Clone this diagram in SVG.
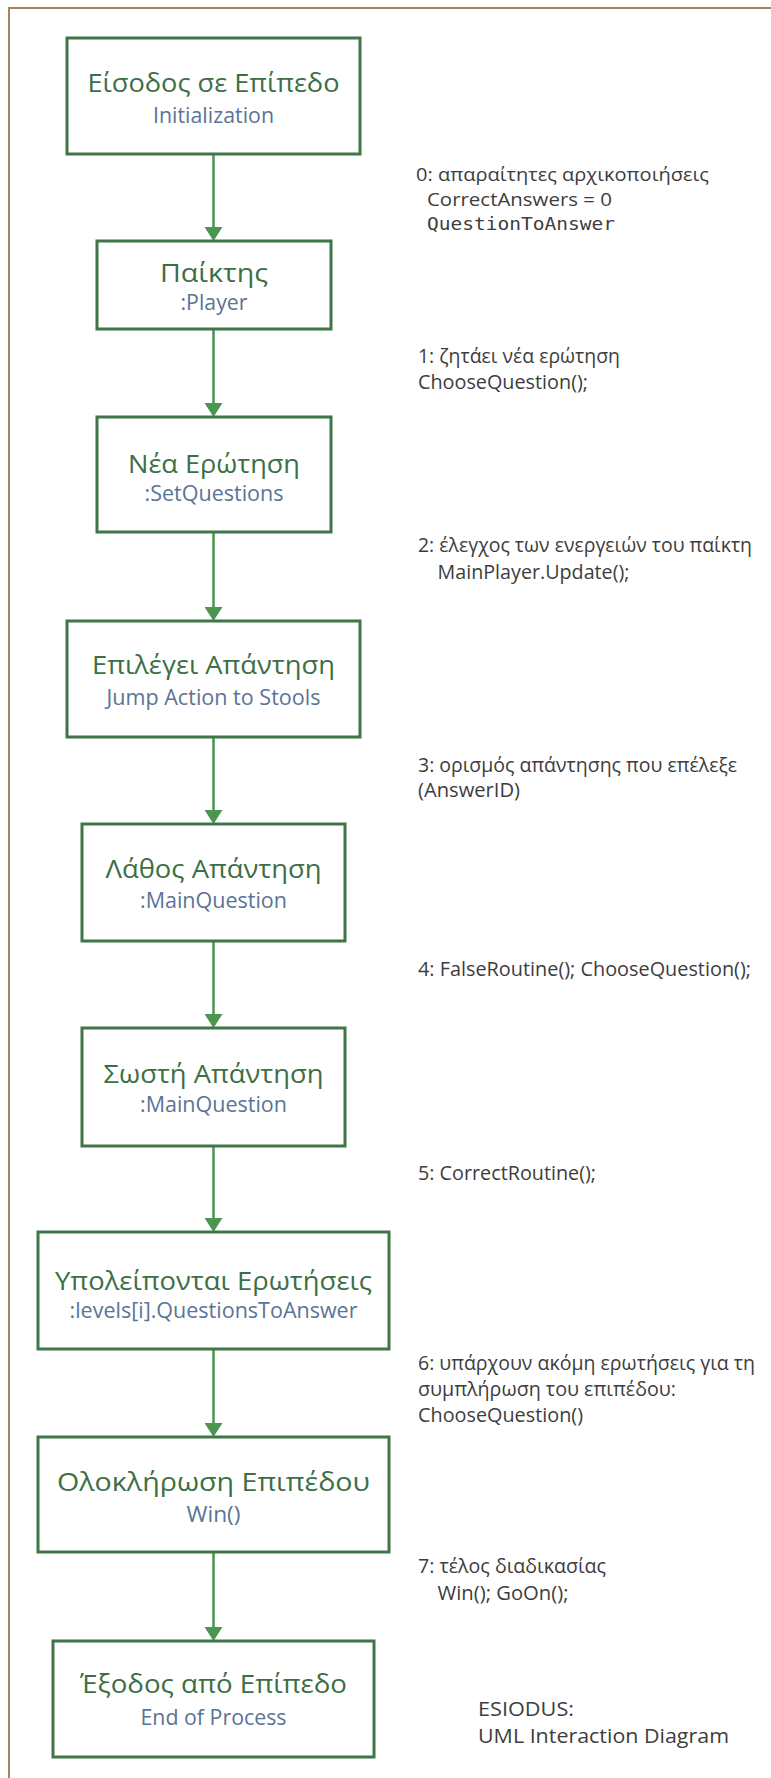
<svg xmlns="http://www.w3.org/2000/svg" width="771" height="1778" viewBox="0 0 771 1778">
  <style>
    .box { fill: #ffffff; stroke: #3f7547; stroke-width: 3; }
    .title { font-family: "Open Sans", "Noto Sans", sans-serif; font-size: 25px; fill: #3c6f45; text-anchor: middle; }
    .sub { font-family: "Open Sans", "Noto Sans", sans-serif; font-size: 21px; fill: #5a7496; text-anchor: middle; }
    .lbl { font-family: "Open Sans", "Noto Sans", sans-serif; font-size: 20px; fill: #3d3d3d; }
    .lbl0 { font-family: "Open Sans", "Noto Sans", sans-serif; font-size: 19px; fill: #3d3d3d; }
    .mono { font-family: "DejaVu Sans Mono", "Liberation Mono", monospace; font-size: 18px; fill: #3d3d3d; }
    .conn { stroke: #4a954f; stroke-width: 2.5; fill: none; marker-end: url(#arrow); }
  </style>
  <defs>
    <marker id="arrow" viewBox="0 0 14 18" refX="1" refY="9" markerWidth="14" markerHeight="18" markerUnits="userSpaceOnUse" orient="auto">
      <path d="M0,0 L14,9 L0,18 Z" fill="#4a954f"/>
    </marker>
  </defs>
  <rect width="771" height="1778" fill="#ffffff"/>
  <path d="M9,1778 V8 H771" fill="none" stroke="#a9825f" stroke-width="2"/>

  <g id="connectors">
    <line class="conn" x1="213.5" y1="154" x2="213.5" y2="228"/>
    <line class="conn" x1="213.5" y1="329" x2="213.5" y2="404"/>
    <line class="conn" x1="213.5" y1="532" x2="213.5" y2="608"/>
    <line class="conn" x1="213.5" y1="737" x2="213.5" y2="811"/>
    <line class="conn" x1="213.5" y1="941" x2="213.5" y2="1015"/>
    <line class="conn" x1="213.5" y1="1146" x2="213.5" y2="1219"/>
    <line class="conn" x1="213.5" y1="1349" x2="213.5" y2="1424"/>
    <line class="conn" x1="213.5" y1="1552" x2="213.5" y2="1628"/>
  </g>

  <g id="node-entry">
    <rect class="box" x="67" y="38" width="293" height="116"/>
    <text class="title" x="213.5" y="92" textLength="252" lengthAdjust="spacingAndGlyphs">Είσοδος σε Επίπεδο</text>
    <text class="sub" x="213.5" y="123" textLength="121" lengthAdjust="spacingAndGlyphs">Initialization</text>
  </g>
  <g id="node-player">
    <rect class="box" x="97" y="241" width="234" height="88"/>
    <text class="title" x="214" y="282" textLength="108" lengthAdjust="spacingAndGlyphs">Παίκτης</text>
    <text class="sub" x="214" y="310" textLength="67" lengthAdjust="spacingAndGlyphs">:Player</text>
  </g>
  <g id="node-new-question">
    <rect class="box" x="97" y="417" width="234" height="115"/>
    <text class="title" x="214" y="473" textLength="172" lengthAdjust="spacingAndGlyphs">Νέα Ερώτηση</text>
    <text class="sub" x="214" y="501" textLength="139" lengthAdjust="spacingAndGlyphs">:SetQuestions</text>
  </g>
  <g id="node-choose-answer">
    <rect class="box" x="67" y="621" width="293" height="116"/>
    <text class="title" x="213.5" y="674" textLength="243" lengthAdjust="spacingAndGlyphs">Επιλέγει Απάντηση</text>
    <text class="sub" x="213.5" y="705" textLength="214" lengthAdjust="spacingAndGlyphs">Jump Action to Stools</text>
  </g>
  <g id="node-wrong-answer">
    <rect class="box" x="82" y="824" width="263" height="117"/>
    <text class="title" x="213.5" y="878" textLength="216" lengthAdjust="spacingAndGlyphs">Λάθος Απάντηση</text>
    <text class="sub" x="213.5" y="908" textLength="147" lengthAdjust="spacingAndGlyphs">:MainQuestion</text>
  </g>
  <g id="node-correct-answer">
    <rect class="box" x="82" y="1028" width="263" height="118"/>
    <text class="title" x="213.5" y="1083" textLength="220" lengthAdjust="spacingAndGlyphs">Σωστή Απάντηση</text>
    <text class="sub" x="213.5" y="1112" textLength="147" lengthAdjust="spacingAndGlyphs">:MainQuestion</text>
  </g>
  <g id="node-remaining">
    <rect class="box" x="38" y="1232" width="351" height="117"/>
    <text class="title" x="213.5" y="1290" textLength="317" lengthAdjust="spacingAndGlyphs">Υπολείπονται Ερωτήσεις</text>
    <text class="sub" x="213.5" y="1318" textLength="288" lengthAdjust="spacingAndGlyphs">:levels[i].QuestionsToAnswer</text>
  </g>
  <g id="node-level-complete">
    <rect class="box" x="38" y="1437" width="351" height="115"/>
    <text class="title" x="213.5" y="1491" textLength="313" lengthAdjust="spacingAndGlyphs">Ολοκλήρωση Επιπέδου</text>
    <text class="sub" x="213.5" y="1522" textLength="54" lengthAdjust="spacingAndGlyphs">Win()</text>
  </g>
  <g id="node-exit">
    <rect class="box" x="53" y="1641" width="321" height="116"/>
    <text class="title" x="213.5" y="1693" textLength="267" lengthAdjust="spacingAndGlyphs">Έξοδος από Επίπεδο</text>
    <text class="sub" x="213.5" y="1725" textLength="146" lengthAdjust="spacingAndGlyphs">End of Process</text>
  </g>

  <g id="labels">
    <text class="lbl0" x="416" y="181" textLength="293" lengthAdjust="spacingAndGlyphs">0: απαραίτητες αρχικοποιήσεις</text>
    <text class="lbl0" x="427" y="206" textLength="185" lengthAdjust="spacingAndGlyphs">CorrectAnswers = 0</text>
    <text class="mono" x="427" y="230" textLength="188" lengthAdjust="spacingAndGlyphs">QuestionToAnswer</text>

    <text class="lbl" x="418" y="363" textLength="202" lengthAdjust="spacingAndGlyphs">1: ζητάει νέα ερώτηση</text>
    <text class="lbl" x="418" y="389" textLength="170" lengthAdjust="spacingAndGlyphs">ChooseQuestion();</text>

    <text class="lbl" x="418" y="552" textLength="334" lengthAdjust="spacingAndGlyphs">2: έλεγχος των ενεργειών του παίκτη</text>
    <text class="lbl" x="437.5" y="579" textLength="192" lengthAdjust="spacingAndGlyphs">MainPlayer.Update();</text>

    <text class="lbl" x="418" y="772" textLength="319" lengthAdjust="spacingAndGlyphs">3: ορισμός απάντησης που επέλεξε</text>
    <text class="lbl" x="418" y="797" textLength="102" lengthAdjust="spacingAndGlyphs">(AnswerID)</text>

    <text class="lbl" x="418" y="976" textLength="333" lengthAdjust="spacingAndGlyphs">4: FalseRoutine(); ChooseQuestion();</text>

    <text class="lbl" x="418" y="1180" textLength="178" lengthAdjust="spacingAndGlyphs">5: CorrectRoutine();</text>

    <text class="lbl" x="418" y="1370" textLength="337" lengthAdjust="spacingAndGlyphs">6: υπάρχουν ακόμη ερωτήσεις για τη</text>
    <text class="lbl" x="418" y="1396" textLength="258" lengthAdjust="spacingAndGlyphs">συμπλήρωση του επιπέδου:</text>
    <text class="lbl" x="418" y="1422" textLength="165" lengthAdjust="spacingAndGlyphs">ChooseQuestion()</text>

    <text class="lbl" x="418" y="1573" textLength="188" lengthAdjust="spacingAndGlyphs">7: τέλος διαδικασίας</text>
    <text class="lbl" x="437.5" y="1600" textLength="131" lengthAdjust="spacingAndGlyphs">Win(); GoOn();</text>

    <text class="lbl" x="478" y="1716" textLength="96" lengthAdjust="spacingAndGlyphs">ESIODUS:</text>
    <text class="lbl" x="478" y="1743" textLength="251" lengthAdjust="spacingAndGlyphs">UML Interaction Diagram</text>
  </g>
</svg>
